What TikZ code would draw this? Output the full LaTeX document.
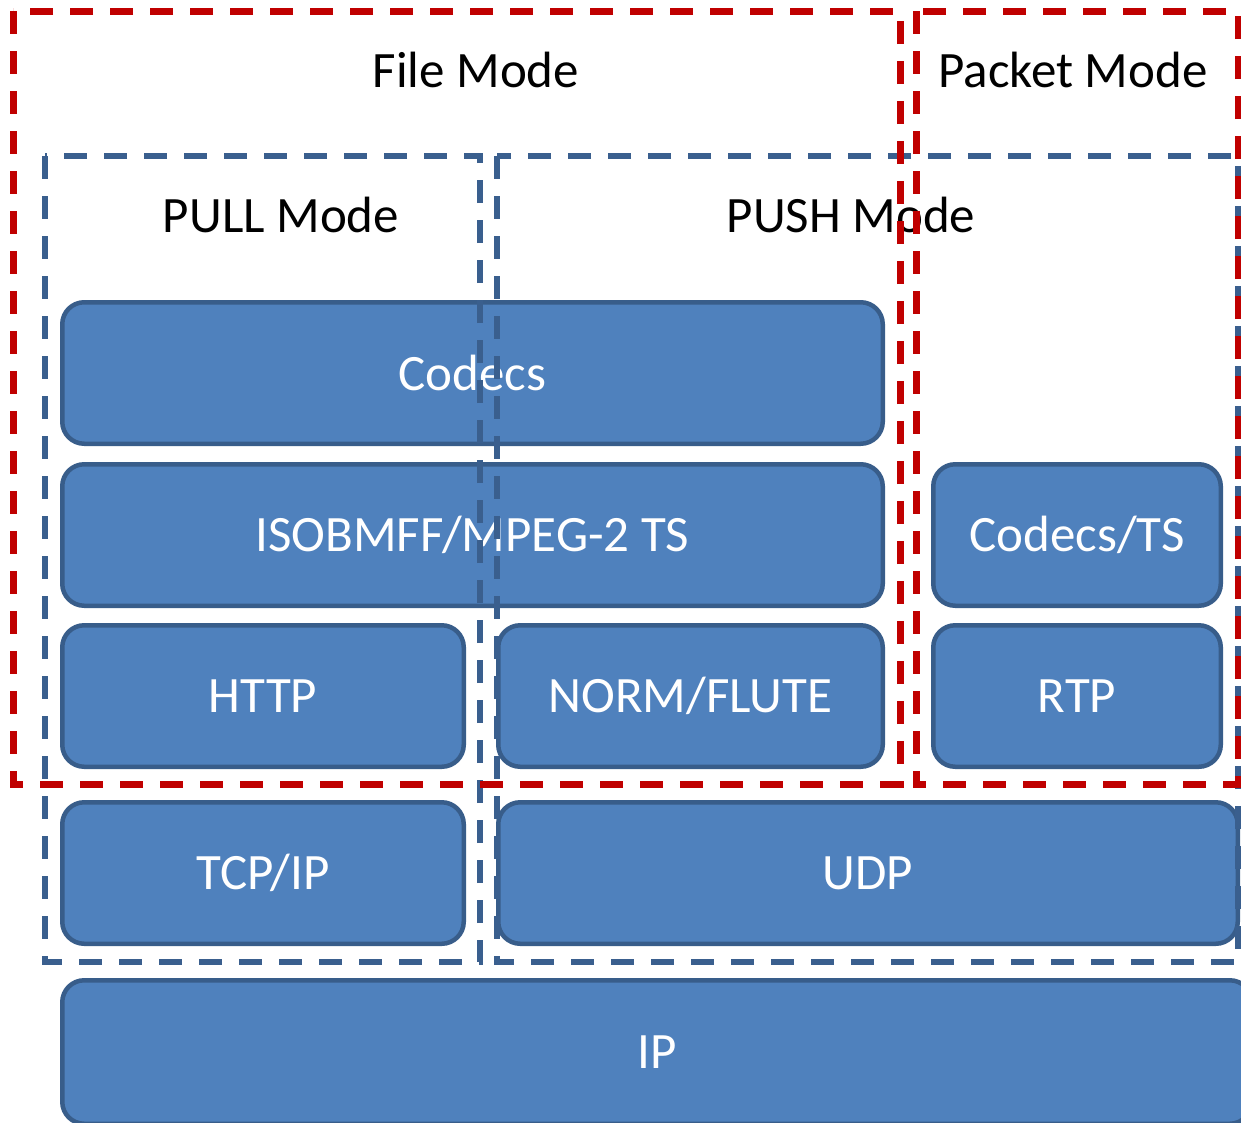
\documentclass[tikz,border=0pt]{standalone}
\usepackage{fontspec}
\setmainfont{Carlito}
\definecolor{boxfill}{HTML}{4F81BD}
\definecolor{boxline}{HTML}{385D8A}
\definecolor{redline}{HTML}{C00000}
\definecolor{blueline}{HTML}{3A5F8E}
\begin{document}
\begin{tikzpicture}[x=1pt,y=-1pt,
  layer/.style={draw=boxline, fill=boxfill, line width=4.5pt, rounded corners=22pt,
    inner sep=0pt, text=white, font=\fontsize{51}{60}\selectfont},
  lbl/.style={inner sep=0pt, text=black, font=\fontsize{51}{60}\selectfont},
  reddash/.style={draw=redline, line width=7pt, dash pattern=on 23pt off 17pt},
  bluedash/.style={draw=blueline, line width=5.5pt, dash pattern=on 23pt off 17pt}]
\useasboundingbox (0,0) rectangle (1241,1122);
\clip (0,0) rectangle (1241,1122);
% layer boxes
\newcommand{\layerbox}[6]{%
  \node[layer, minimum width={#4-#2-4.5pt}, minimum height={#5-#3-4.5pt}]
    (#1) at ({(#2+#4)/2},{(#3+#5)/2}) {#6};}
\layerbox{codecs}{60}{300}{885}{446}{Codecs}
\layerbox{iso}{60}{462}{885}{608}{ISOBMFF/MPEG-2 TS}
\layerbox{http}{60}{623}{466}{769}{HTTP}
\layerbox{norm}{496}{623}{885}{769}{NORM/FLUTE}
\layerbox{codecsts}{931}{462}{1223}{608}{Codecs/TS}
\layerbox{rtp}{931}{623}{1223}{769}{RTP}
\layerbox{tcp}{60}{800}{466}{946}{TCP/IP}
\layerbox{udp}{496}{800}{1240}{946}{UDP}
\layerbox{ip}{60}{978}{1254}{1126}{IP}
% mode labels
\node[lbl] (filemode) at (476,70) {File Mode};
\node[lbl] (packetmode) at (1073,70) {Packet Mode};
\node[lbl] (pullmode) at (281,215) {PULL Mode};
\node[lbl] (pushmode) at (851,215) {PUSH Mode};
% dashed regions
\draw[bluedash] (45,156) rectangle (480,962);
\draw[bluedash] (497,156) rectangle (1238,962);
\draw[reddash] (13,11) rectangle (900,784);
\draw[reddash] (916,11) rectangle (1238,784);
\end{tikzpicture}
\end{document}
